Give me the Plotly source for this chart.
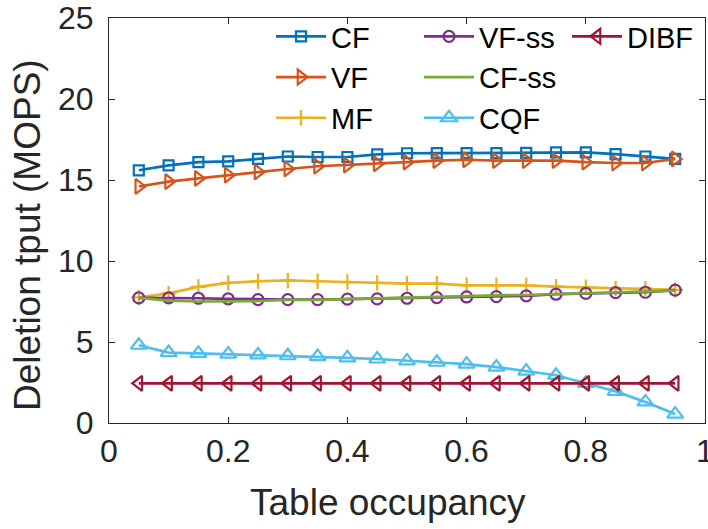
import plotly.graph_objects as go

occupancy = [0.05, 0.10, 0.15, 0.20, 0.25, 0.30, 0.35, 0.40, 0.45, 0.50,
             0.55, 0.60, 0.65, 0.70, 0.75, 0.80, 0.85, 0.90, 0.95]

cf = [15.6, 15.9, 16.1, 16.15, 16.3, 16.45, 16.42, 16.42, 16.58, 16.65,
      16.66, 16.66, 16.66, 16.67, 16.7, 16.7, 16.6, 16.45, 16.3]
vf = [14.6, 14.9, 15.1, 15.3, 15.5, 15.68, 15.85, 15.92, 16.0, 16.1,
      16.2, 16.25, 16.2, 16.2, 16.2, 16.1, 16.05, 16.05, 16.3]
mf = [7.75, 8.0, 8.4, 8.65, 8.75, 8.8, 8.75, 8.7, 8.65, 8.6,
      8.6, 8.5, 8.5, 8.5, 8.42, 8.38, 8.3, 8.3, 8.22]
vf_ss = [7.72, 7.72, 7.7, 7.66, 7.62, 7.62, 7.62, 7.65, 7.66, 7.7,
         7.74, 7.78, 7.8, 7.85, 7.95, 8.0, 8.05, 8.07, 8.2]
cf_ss = [7.72, 7.55, 7.5, 7.5, 7.53, 7.6, 7.6, 7.65, 7.7, 7.76,
         7.82, 7.85, 7.88, 7.9, 7.95, 8.0, 8.05, 8.1, 8.17]
cqf = [4.8, 4.35, 4.3, 4.25, 4.2, 4.15, 4.1, 4.02, 3.95, 3.83,
       3.75, 3.63, 3.45, 3.2, 2.95, 2.45, 1.95, 1.3, 0.55]
dibf = [2.45] * 19

x_ticks = [0, 0.2, 0.4, 0.6, 0.8, 1]
x_tick_labels = ["0", "0.2", "0.4", "0.6", "0.8", "1"]
y_ticks = [0, 5, 10, 15, 20, 25]
y_tick_labels = ["0", "5", "10", "15", "20", "25"]

series = [
    ("CF", cf, "#0072BD", "square-open", 10, "legend"),
    ("VF", vf, "#D95319", "triangle-right-open", 13, "legend"),
    ("MF", mf, "#EDB120", "cross-thin-open", 11, "legend"),
    ("VF-ss", vf_ss, "#7E2F8E", "circle-open", 11, "legend2"),
    ("CF-ss", cf_ss, "#77AC30", None, 0, "legend2"),
    ("CQF", cqf, "#4DBEEE", "triangle-up-open", 14, "legend2"),
    ("DIBF", dibf, "#A2142F", "triangle-left-open", 13, "legend3"),
]

fig = go.Figure()
for name, ys, color, sym, size, leg in series:
    if sym is None:
        fig.add_trace(go.Scatter(x=occupancy, y=ys, name=name, mode="lines",
                                 line=dict(color=color, width=2.7), legend=leg))
    else:
        fig.add_trace(go.Scatter(x=occupancy, y=ys, name=name, mode="lines+markers",
                                 line=dict(color=color, width=2.7),
                                 marker=dict(symbol=sym, size=size, color=color,
                                             line=dict(color=color, width=2.2)),
                                 legend=leg))

font_family = "Liberation Sans, Arial, Helvetica, sans-serif"
axis_common = dict(showline=True, linecolor="#262626", linewidth=1, mirror="ticks",
                   ticks="inside", ticklen=6, tickcolor="#262626", showgrid=False,
                   zeroline=False, automargin=False, ticklabeloverflow="allow",
                   tickfont=dict(size=32, color="#262626", family=font_family))

leg_common = dict(font=dict(size=29, color="#000000", family=font_family),
                  bgcolor="rgba(0,0,0,0)", borderwidth=0, xanchor="left", yanchor="top",
                  tracegroupgap=0, itemwidth=50)

W, H = 708, 529
L, R, T, B = 109, 3, 18, 106
pw, ph = W - L - R, H - T - B

def px_x(p):
    return (p - L) / pw

def px_y(p):
    return (H - B - p) / ph

fig.update_layout(
    width=W, height=H,
    margin=dict(l=L, r=R, t=T, b=B),
    paper_bgcolor="white", plot_bgcolor="white",
    font=dict(family=font_family, color="#262626"),
    xaxis=dict(range=[0, 1], tickvals=x_ticks, ticktext=x_tick_labels, **axis_common),
    yaxis=dict(range=[0, 25], tickvals=y_ticks, ticktext=y_tick_labels,
               ticklabelstandoff=8, **axis_common),
    legend=dict(x=px_x(271), y=px_y(11), **leg_common),
    legend2=dict(x=px_x(419), y=px_y(11), **leg_common),
    legend3=dict(x=px_x(567), y=px_y(11), **leg_common),
    showlegend=True,
    annotations=[
        dict(text="Table occupancy", xref="paper", yref="paper",
             x=px_x(248), y=px_y(480), xanchor="left", yanchor="top", showarrow=False,
             font=dict(size=37, color="#262626", family=font_family)),
        dict(text="Deletion tput (MOPS)", xref="paper", yref="paper",
             x=px_x(27), y=px_y(235), xanchor="center", yanchor="middle", showarrow=False,
             textangle=-90, font=dict(size=37, color="#262626", family=font_family)),
    ],
)

fig.write_html("out.html", config={"displayModeBar": False},
               post_script="document.body.style.margin='0';")
